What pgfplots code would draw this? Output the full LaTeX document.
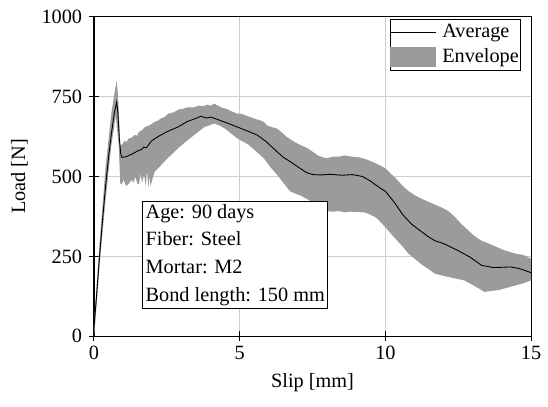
\documentclass[border=0pt]{standalone}
\usepackage{pgfplots}
\pgfplotsset{compat=1.18}
\usepackage{fontspec}
\setmainfont{Liberation Serif}
\definecolor{envgray}{RGB}{155,155,155}
\definecolor{gridgray}{RGB}{205,205,205}
\begin{document}
\fontsize{20.5}{24}\selectfont
\begin{tikzpicture}
\begin{axis}[
  scale only axis,
  width=442pt, height=323pt,
  xmin=0, xmax=15, ymin=0, ymax=1000,
  xtick={0,5,10,15}, ytick={0,250,500,750,1000},
  grid=major, grid style={gridgray, line width=0.8pt},
  axis line style={black, line width=1.2pt},
  tick align=center, tick pos=left,
  major tick length=10pt,
  tick style={black, line width=1pt},
  /pgf/number format/assume math mode=true,
  /pgf/number format/1000 sep={},
  ticklabel style={font=\fontsize{20.5}{24}\selectfont},
  xticklabel style={yshift=2pt},
  label style={font=\fontsize{20.5}{24}\selectfont},
  xlabel={Slip [mm]}, ylabel={Load [N]},
  legend style={at={(rel axis cs:1,1)}, anchor=north east, xshift=-10pt, yshift=-2pt,
    font=\fontsize{20.5}{22}\selectfont, draw=black, line width=0.8pt,
    inner xsep=0pt, inner ysep=3pt, row sep=4pt, cells={anchor=west},
    /tikz/every odd column/.append style={column sep=4pt}},
  legend cell align=left,
  reverse legend,
]
\addplot[fill=envgray, draw=none,
  legend image code/.code={\fill[envgray] (0pt,-10.5pt) rectangle (46pt,10.5pt);}] coordinates {
(0,40) (0.2,300) (0.4,530) (0.6,700) (0.72,770) (0.78,800) (0.82,760) (0.86,690) (0.9,600)
(0.96,599) (1.05,612) (1.12,608) (1.19,619) (1.3,622) (1.4,630) (1.48,628) (1.55,640) (1.65,645) (1.75,655) (1.9,660) (2.1,672)
(2.2,675) (2.3,682) (2.42,686) (2.55,697) (2.7,700) (2.8,704) (2.9,710) (3.05,712) (3.22,717) (3.4,716) (3.6,722) (3.75,720)
(3.9,725) (4.0,722) (4.13,728) (4.25,722) (4.4,715) (4.55,712) (4.7,705) (4.92,697) (5.1,695)
(5.3,688) (5.55,680) (5.7,676) (5.83,671) (5.94,660) (6.1,655) (6.28,650) (6.45,638) (6.6,625) (6.85,610)
(7.07,599) (7.3,590) (7.5,578) (7.7,565) (7.97,557) (8.2,562) (8.4,562) (8.6,566) (8.88,562)
(9.1,560) (9.3,555) (9.5,548) (9.7,540) (10.0,526) (10.2,508) (10.4,490) (10.6,470) (10.8,454)
(11.0,442) (11.2,432) (11.45,422) (11.7,412) (11.95,402) (12.16,392) (12.4,372) (12.6,352)
(12.8,335) (13.0,318) (13.15,308) (13.3,299) (13.55,290) (13.8,280) (14.05,270) (14.3,263)
(14.5,258) (14.7,255) (14.85,250) (15.0,242)
(15,175) (14.85,170) (14.7,165) (14.5,160) (14.3,155) (14.1,150) (13.9,145) (13.65,142) (13.4,139)
(13.2,150) (13.0,160) (12.85,168) (12.7,175) (12.45,180) (12.2,185) (11.95,190) (11.7,196)
(11.45,212) (11.2,228) (11.0,243) (10.8,258) (10.6,280) (10.4,300) (10.2,320) (10.0,341)
(9.85,356) (9.7,370) (9.5,380) (9.33,387) (9.05,389) (8.8,390) (8.6,388) (8.4,392) (8.2,390)
(7.97,392) (7.75,405) (7.5,420) (7.3,430) (7.1,440) (6.9,447) (6.73,454) (6.5,480) (6.28,506)
(6.05,530) (5.83,557) (5.55,580) (5.3,600) (5.1,610) (4.92,619) (4.7,635) (4.5,650) (4.3,660)
(4.13,666) (3.95,660) (3.79,655) (3.55,638) (3.3,620) (3.1,605) (2.88,588) (2.7,572) (2.5,555)
(2.3,535) (2.09,516) (2.0,490) (1.95,470) (1.9,500) (1.87,464) (1.82,520) (1.78,470) (1.72,505)
(1.65,480) (1.6,510) (1.55,478) (1.5,475) (1.42,500) (1.35,480) (1.3,490) (1.2,478) (1.1,470)
(1.02,490) (0.95,475) (0.9,480) (0.85,600) (0.75,690) (0.6,600) (0.4,430) (0.2,230) (0.05,50) (0,0)
} --cycle;
\addlegendentry{Envelope}
\addplot[black, line width=0.9pt,
  legend image code/.code={\draw[black, line width=0.9pt] (0pt,0pt) -- (46pt,0pt);}] coordinates {
(0,25) (0.1,140) (0.2,260) (0.3,370) (0.4,470) (0.5,560) (0.6,635) (0.7,700) (0.78,733)
(0.82,700) (0.87,620) (0.92,570) (0.96,560) (1.1,562) (1.3,570) (1.5,580) (1.64,585) (1.7,592)
(1.8,590) (1.98,612) (2.2,625) (2.5,640) (2.88,655) (3.2,672) (3.5,682) (3.68,689) (3.85,683)
(4.01,686) (4.2,680) (4.5,670) (4.92,655) (5.2,645) (5.6,630) (5.9,610) (6.28,578) (6.5,560)
(6.73,547) (7.0,530) (7.3,512) (7.52,506) (7.8,505) (8.1,507) (8.5,504) (8.88,506) (9.22,500)
(9.5,485) (9.8,465) (10.0,454) (10.3,420) (10.6,380) (10.9,351) (11.2,330) (11.5,310) (11.7,299)
(12.0,290) (12.5,268) (12.9,248) (13.3,222) (13.7,215) (14.0,216) (14.3,217) (14.6,212) (15.0,199)
};
\addlegendentry{Average}
\node[anchor=north west, draw=black, line width=0.8pt, fill=white, align=left,
  inner sep=3pt, font=\fontsize{20.5}{28}\selectfont]
  at (axis cs:1.66,424) {Age: 90 days\\Fiber: Steel\\Mortar: M2\\Bond length: 150 mm};
\coordinate (O) at (rel axis cs:0,0);
\coordinate (T) at (rel axis cs:1,1);
\end{axis}
\path ([shift={(-95pt,-71pt)}]O) rectangle ([shift={(11pt,17pt)}]T);
\end{tikzpicture}
\end{document}
